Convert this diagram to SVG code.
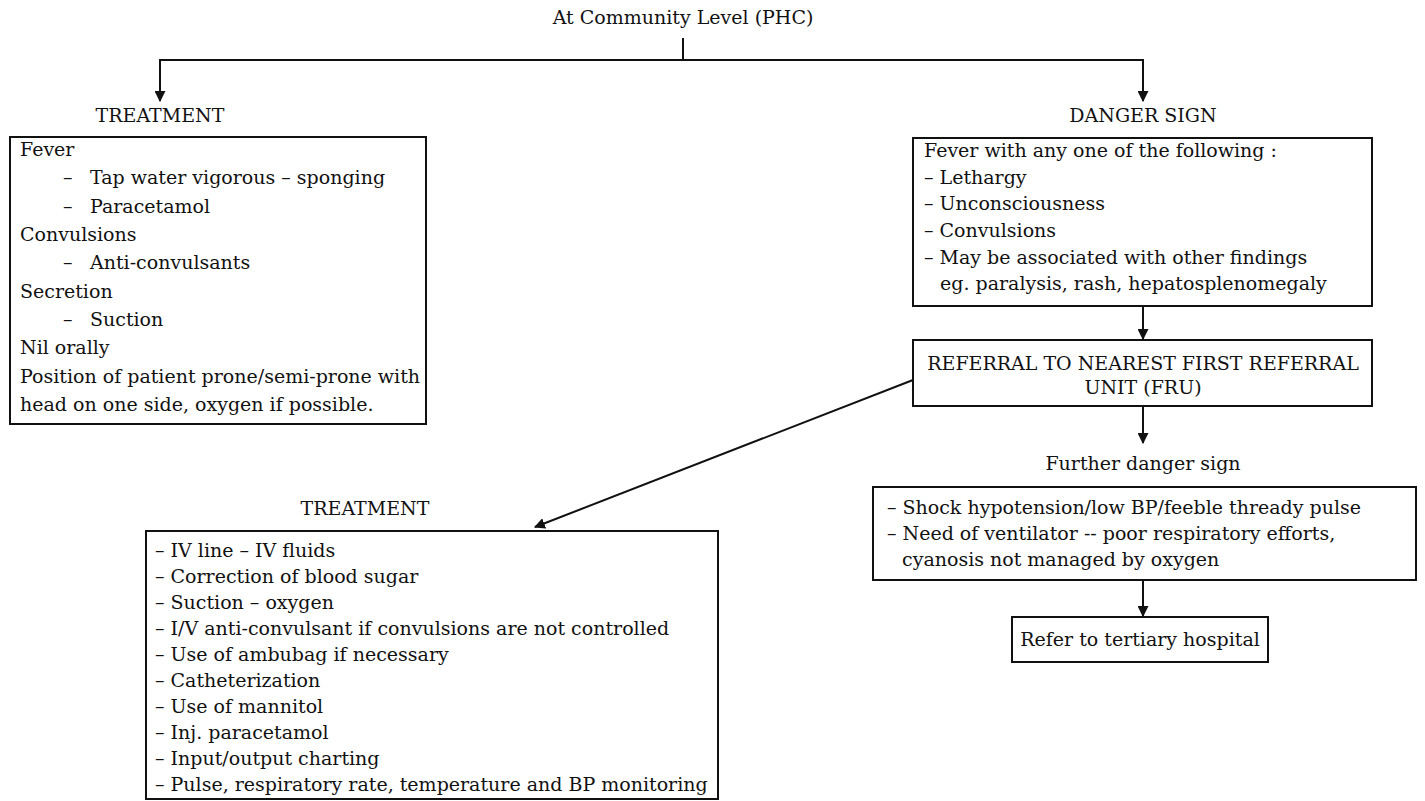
<svg xmlns="http://www.w3.org/2000/svg" width="1425" height="801" viewBox="0 0 1425 801">
<style>
text{font-family:"DejaVu Serif","Liberation Serif",serif;font-size:19px;fill:#111}
.c{text-anchor:middle}
.box{fill:none;stroke:#111;stroke-width:2}
.ln{fill:none;stroke:#111;stroke-width:2}
</style>
<defs>
<marker id="ah" viewBox="0 0 10 10" refX="9" refY="5" markerWidth="11" markerHeight="11" markerUnits="userSpaceOnUse" orient="auto">
<path d="M0,0 L10,5 L0,10 Z" fill="#111"/>
</marker>
</defs>
<rect width="1425" height="801" fill="#fff"/>
<g id="title"><text class="c" x="683" y="24">At Community Level (PHC)</text></g>
<g id="connectors">
<path class="ln" d="M683,38 V60"/>
<path class="ln" d="M160,60 H1143"/>
<path class="ln" d="M160,59 V101" marker-end="url(#ah)"/>
<path class="ln" d="M1143,59 V101" marker-end="url(#ah)"/>
<path class="ln" d="M1143,306 V339" marker-end="url(#ah)"/>
<path class="ln" d="M1143,406 V443" marker-end="url(#ah)"/>
<path class="ln" d="M1143,580 V616" marker-end="url(#ah)"/>
<path class="ln" d="M913,380 L535,527" marker-end="url(#ah)"/>
</g>
<g id="treatment-label"><text class="c" x="160" y="122">TREATMENT</text></g>
<g id="treatment-box">
<rect class="box" x="10" y="137" width="416" height="287"/>
<text x="20" y="156">Fever</text>
<text y="184"><tspan x="63">–</tspan><tspan x="90">Tap water vigorous – sponging</tspan></text>
<text y="213"><tspan x="63">–</tspan><tspan x="90">Paracetamol</tspan></text>
<text x="20" y="241">Convulsions</text>
<text y="269"><tspan x="63">–</tspan><tspan x="90">Anti-convulsants</tspan></text>
<text x="20" y="298">Secretion</text>
<text y="326"><tspan x="63">–</tspan><tspan x="90">Suction</tspan></text>
<text x="20" y="354">Nil orally</text>
<text x="20" y="383">Position of patient prone/semi-prone with</text>
<text x="20" y="411">head on one side, oxygen if possible.</text>
</g>
<g id="danger-label"><text class="c" x="1143" y="122">DANGER SIGN</text></g>
<g id="danger-box">
<rect class="box" x="913" y="138" width="459" height="168"/>
<text x="924" y="157">Fever with any one of the following :</text>
<text x="924" y="184">– Lethargy</text>
<text x="924" y="210">– Unconsciousness</text>
<text x="924" y="237">– Convulsions</text>
<text x="924" y="264">– May be associated with other findings</text>
<text x="940" y="290">eg. paralysis, rash, hepatosplenomegaly</text>
</g>
<g id="referral-box">
<rect class="box" x="913" y="340" width="459" height="66"/>
<text class="c" x="1143" y="370">REFERRAL TO NEAREST FIRST REFERRAL</text>
<text class="c" x="1143" y="394">UNIT (FRU)</text>
</g>
<g id="further-label"><text class="c" x="1143" y="470">Further danger sign</text></g>
<g id="further-box">
<rect class="box" x="873" y="487" width="543" height="93"/>
<text x="887" y="514">– Shock hypotension/low BP/feeble thready pulse</text>
<text x="887" y="540">– Need of ventilator -- poor respiratory efforts,</text>
<text x="902" y="566">cyanosis not managed by oxygen</text>
</g>
<g id="tertiary-box">
<rect class="box" x="1012" y="617" width="256" height="45"/>
<text class="c" x="1140" y="646">Refer to tertiary hospital</text>
</g>
<g id="treatment2-label"><text class="c" x="365" y="515">TREATMENT</text></g>
<g id="treatment2-box">
<rect class="box" x="146" y="531" width="572" height="268"/>
<text x="155" y="557">– IV line – IV fluids</text>
<text x="155" y="583">– Correction of blood sugar</text>
<text x="155" y="609">– Suction – oxygen</text>
<text x="155" y="635">– I/V anti-convulsant if convulsions are not controlled</text>
<text x="155" y="661">– Use of ambubag if necessary</text>
<text x="155" y="687">– Catheterization</text>
<text x="155" y="713">– Use of mannitol</text>
<text x="155" y="739">– Inj. paracetamol</text>
<text x="155" y="765">– Input/output charting</text>
<text x="155" y="791">– Pulse, respiratory rate, temperature and BP monitoring</text>
</g>
</svg>
